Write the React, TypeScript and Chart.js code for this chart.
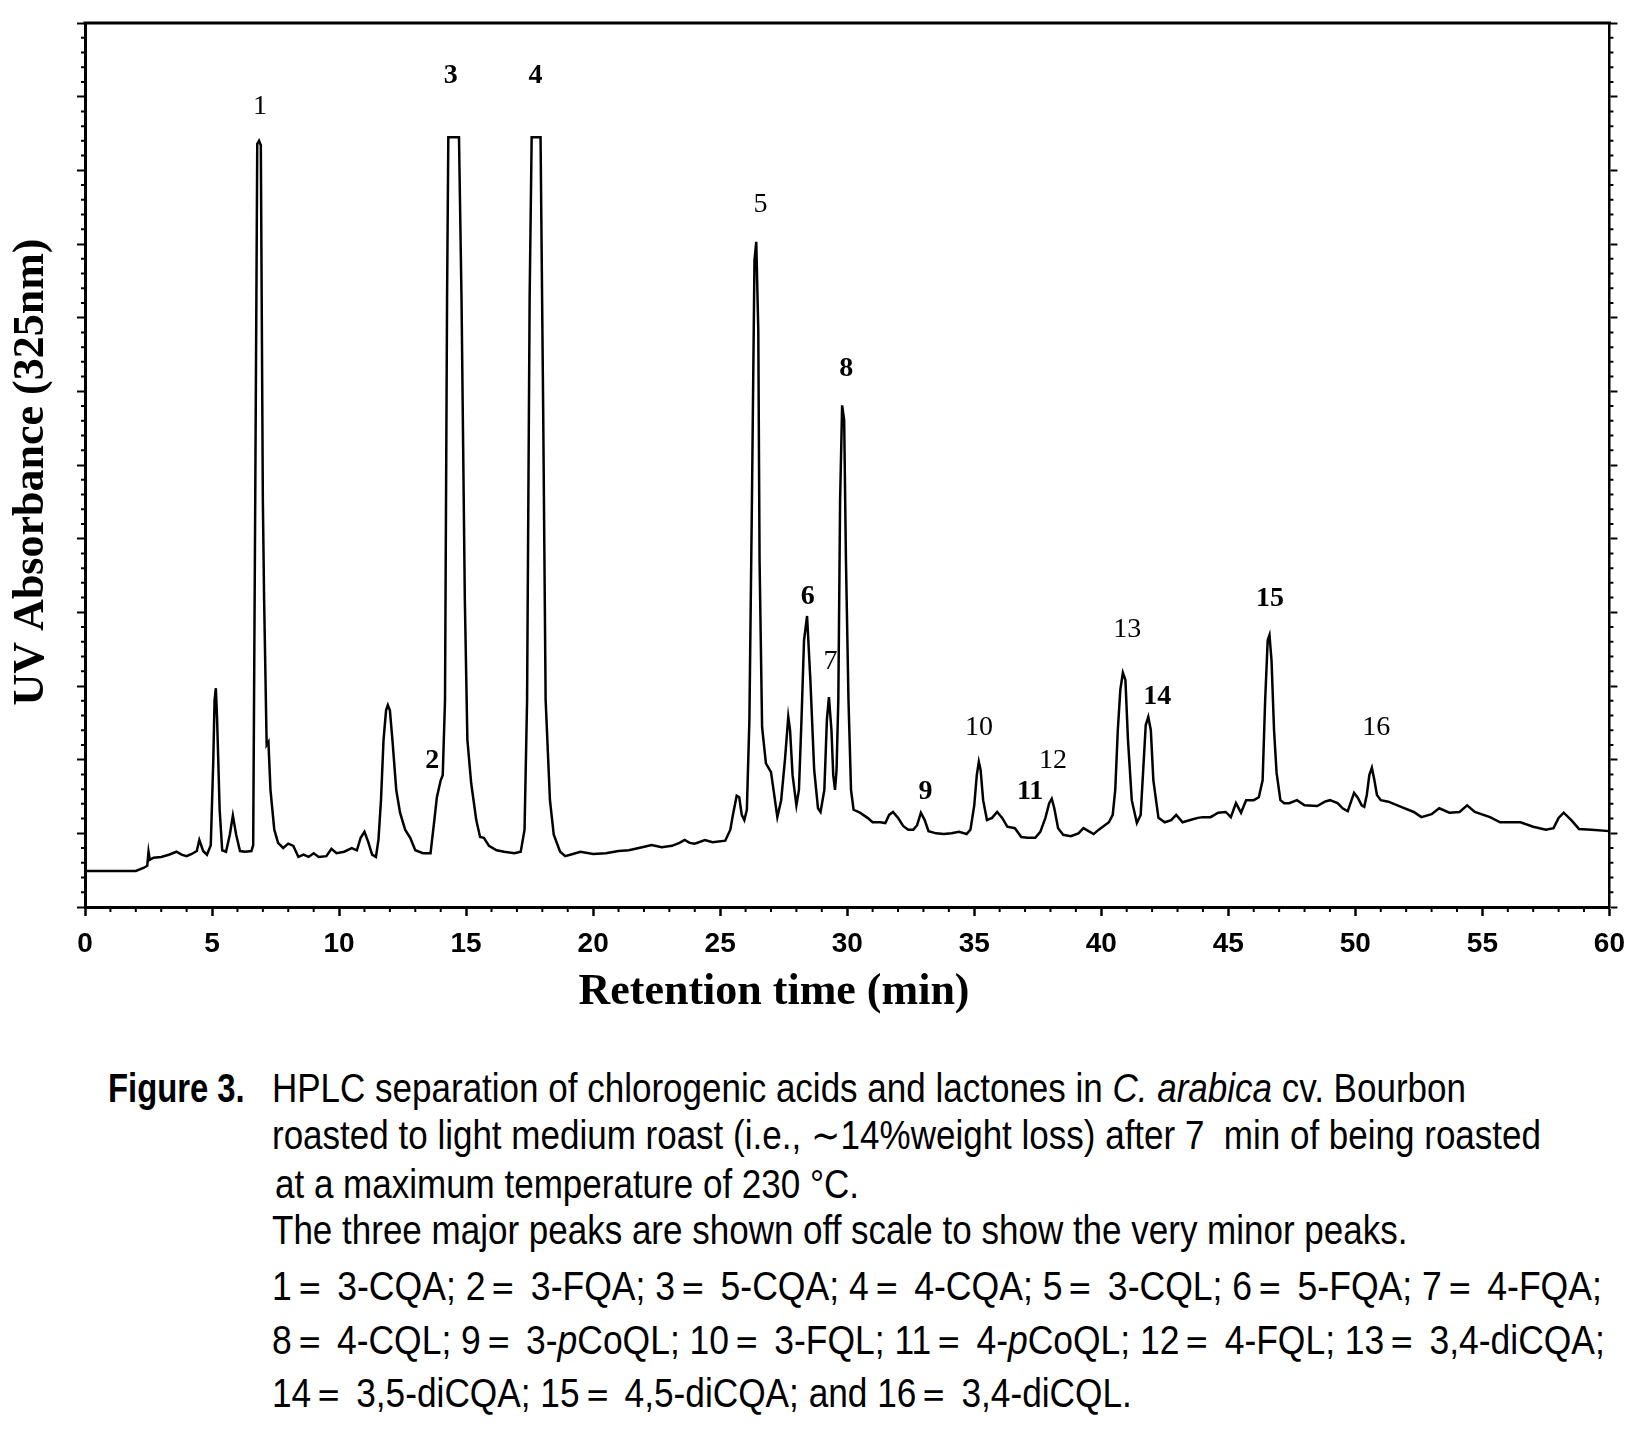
import React, { useEffect, useRef } from "react";
import { Chart, registerables } from "chart.js";

Chart.register(...registerables);

const retentionTimes: number[] = [
  0.0, 1.0, 2.0, 2.3, 2.45, 2.5, 2.55, 2.7, 3.0, 3.3, 3.6, 3.8, 4.0, 4.2, 4.4, 4.5, 4.65, 4.8, 4.95, 5.05,
  5.1, 5.15, 5.2, 5.3, 5.4, 5.55, 5.7, 5.82, 5.95, 6.1, 6.3, 6.55, 6.62, 6.7, 6.78, 6.85, 6.92, 7.0, 7.05, 7.15,
  7.22, 7.3, 7.45, 7.6, 7.8, 8.0, 8.2, 8.4, 8.6, 8.8, 9.0, 9.2, 9.5, 9.7, 9.9, 10.2, 10.5, 10.7, 10.85, 11.0,
  11.15, 11.3, 11.45, 11.55, 11.65, 11.75, 11.85, 11.92, 12.0, 12.1, 12.25, 12.4, 12.6, 12.8, 13.0, 13.3, 13.6, 13.75, 13.85, 14.0,
  14.08, 14.17, 14.25, 14.3, 14.72, 14.82, 14.95, 15.05, 15.2, 15.4, 15.55, 15.7, 15.9, 16.2, 16.5, 16.9, 17.15, 17.3, 17.4, 17.5,
  17.58, 17.93, 18.03, 18.13, 18.3, 18.45, 18.7, 18.9, 19.2, 19.5, 20.0, 20.5, 21.0, 21.4, 21.8, 22.3, 22.7, 23.1, 23.4, 23.6,
  23.8, 24.0, 24.4, 24.7, 25.2, 25.4, 25.5, 25.65, 25.75, 25.85, 25.95, 26.05, 26.15, 26.25, 26.35, 26.42, 26.5, 26.55, 26.65, 26.8,
  27.0, 27.1, 27.25, 27.4, 27.55, 27.68, 27.75, 27.85, 28.0, 28.1, 28.2, 28.3, 28.42, 28.55, 28.7, 28.85, 28.95, 29.1, 29.2, 29.28,
  29.38, 29.45, 29.52, 29.58, 29.65, 29.72, 29.8, 29.88, 29.95, 30.05, 30.15, 30.25, 30.5, 30.8, 31.0, 31.3, 31.5, 31.65, 31.8, 32.0,
  32.2, 32.4, 32.6, 32.75, 32.9, 33.05, 33.2, 33.5, 33.8, 34.1, 34.4, 34.7, 34.85, 35.0, 35.1, 35.18, 35.25, 35.35, 35.5, 35.7,
  35.9, 36.1, 36.3, 36.6, 36.85, 37.1, 37.4, 37.6, 37.8, 37.95, 38.05, 38.15, 38.3, 38.5, 38.8, 39.1, 39.3, 39.5, 39.7, 39.9,
  40.1, 40.3, 40.45, 40.55, 40.65, 40.75, 40.85, 40.95, 41.05, 41.2, 41.4, 41.55, 41.65, 41.75, 41.85, 41.95, 42.05, 42.25, 42.5, 42.75,
  42.95, 43.2, 43.5, 43.8, 44.0, 44.3, 44.6, 44.9, 45.1, 45.3, 45.5, 45.7, 46.0, 46.2, 46.35, 46.45, 46.55, 46.62, 46.7, 46.8,
  46.9, 47.05, 47.2, 47.4, 47.7, 48.0, 48.5, 48.8, 49.0, 49.3, 49.5, 49.7, 49.85, 49.95, 50.1, 50.25, 50.35, 50.45, 50.55, 50.65,
  50.75, 50.85, 51.0, 51.3, 51.8, 52.3, 52.6, 53.0, 53.3, 53.7, 54.1, 54.4, 54.7, 55.3, 55.7, 56.5, 57.0, 57.5, 57.8, 58.0,
  58.2, 58.5, 58.8, 59.3, 60.0,
];

// UV absorbance at 325 nm (arbitrary units, axis runs 0 to 12)
const absorbance: number[] = [
  0.49, 0.49, 0.49, 0.53, 0.56, 0.75, 0.64, 0.67, 0.68, 0.71, 0.75, 0.71, 0.69, 0.72, 0.76, 0.91, 0.76, 0.71, 0.84, 2.0,
  2.81, 2.97, 2.54, 1.32, 0.77, 0.75, 0.98, 1.24, 0.98, 0.76, 0.75, 0.76, 0.84, 5.52, 10.36, 10.4, 10.34, 5.52, 4.17, 2.2,
  2.24, 1.59, 1.05, 0.87, 0.8, 0.86, 0.83, 0.68, 0.71, 0.68, 0.73, 0.68, 0.69, 0.79, 0.73, 0.75, 0.8, 0.77, 0.94, 1.02,
  0.88, 0.71, 0.68, 0.91, 1.45, 2.27, 2.67, 2.74, 2.67, 2.27, 1.59, 1.28, 1.05, 0.94, 0.77, 0.73, 0.73, 1.18, 1.49, 1.72,
  1.79, 2.81, 8.24, 10.45, 10.45, 8.24, 4.17, 2.27, 1.68, 1.18, 0.95, 0.94, 0.83, 0.77, 0.75, 0.73, 0.75, 1.05, 2.81, 8.24,
  10.45, 10.45, 6.88, 2.81, 1.45, 0.98, 0.75, 0.69, 0.72, 0.75, 0.72, 0.73, 0.76, 0.77, 0.8, 0.84, 0.81, 0.83, 0.87, 0.91,
  0.87, 0.86, 0.91, 0.88, 0.9, 1.05, 1.25, 1.51, 1.49, 1.25, 1.18, 1.32, 2.54, 5.52, 8.78, 9.03, 7.83, 4.71, 2.44, 1.95,
  1.83, 1.59, 1.22, 1.45, 2.0, 2.58, 2.4, 1.79, 1.38, 1.59, 2.54, 3.62, 3.95, 3.08, 1.86, 1.34, 1.29, 1.59, 2.54, 2.85,
  2.4, 1.79, 1.59, 1.86, 2.81, 5.52, 6.81, 6.61, 4.71, 2.81, 1.59, 1.32, 1.28, 1.21, 1.15, 1.15, 1.14, 1.25, 1.29, 1.21,
  1.1, 1.05, 1.05, 1.11, 1.28, 1.18, 1.03, 1.0, 0.99, 1.0, 1.02, 0.99, 1.05, 1.38, 1.79, 1.97, 1.86, 1.45, 1.18, 1.21,
  1.29, 1.21, 1.09, 1.07, 0.95, 0.94, 0.94, 1.02, 1.21, 1.41, 1.47, 1.34, 1.07, 0.98, 0.96, 1.0, 1.07, 1.03, 0.99, 1.05,
  1.1, 1.15, 1.25, 1.59, 2.4, 2.95, 3.18, 3.08, 2.27, 1.45, 1.14, 1.25, 1.86, 2.47, 2.58, 2.4, 1.72, 1.21, 1.15, 1.18,
  1.25, 1.15, 1.18, 1.21, 1.22, 1.22, 1.28, 1.29, 1.22, 1.41, 1.28, 1.45, 1.45, 1.49, 1.72, 2.81, 3.62, 3.69, 3.35, 2.4,
  1.82, 1.45, 1.41, 1.41, 1.45, 1.38, 1.37, 1.43, 1.45, 1.41, 1.34, 1.3, 1.45, 1.55, 1.48, 1.38, 1.36, 1.52, 1.79, 1.89,
  1.72, 1.52, 1.45, 1.43, 1.36, 1.29, 1.22, 1.26, 1.34, 1.28, 1.29, 1.38, 1.29, 1.22, 1.15, 1.15, 1.09, 1.05, 1.07, 1.21,
  1.28, 1.18, 1.06, 1.05, 1.03,
];

const xTickLabels = ["0", "5", "10", "15", "20", "25", "30", "35", "40", "45", "50", "55", "60"];

// Peak numbers and where they are written (retention time, absorbance level)
const peakNumbers = ["1", "2", "3", "4", "5", "6", "7", "8", "9", "10", "11", "12", "13", "14", "15", "16"];
const peakLabelTimes = [6.89, 13.67, 14.4, 17.73, 26.59, 28.45, 29.34, 29.96, 33.08, 35.19, 37.2, 38.1, 41.02, 42.2, 46.64, 50.82];
const peakLabelLevels = [10.86, 1.99, 11.29, 11.29, 9.53, 4.21, 3.33, 7.3, 1.57, 2.44, 1.57, 1.99, 3.76, 2.86, 4.19, 2.43];

// styling of the peak numbers (kept apart from the data)
const peakLabelBold = [false, true, true, true, false, true, false, true, true, false, true, false, false, true, true, false];

const xAxisTitle = "Retention time (min)";
const yAxisTitle = "UV Absorbance (325nm)";

const CANVAS_W = 1628;
const CANVAS_H = 1030;
const CAPTION_SCALE = 0.875;

export default function App() {
  const ref = useRef<HTMLCanvasElement | null>(null);

  useEffect(() => {
    const canvas = ref.current;
    if (!canvas) return;
    const points = retentionTimes.map((t, i) => ({ x: t, y: absorbance[i] }));

    const decor = {
      id: "decor",
      afterDraw(chart: any) {
        const { ctx, chartArea: a, scales } = chart;
        const xs = scales.x;
        const ys = scales.y;
        ctx.save();
        ctx.strokeStyle = "#000";
        ctx.fillStyle = "#000";
        // top frame line
        ctx.lineWidth = 3;
        ctx.beginPath();
        ctx.moveTo(a.left - 1.5, a.top);
        ctx.lineTo(a.right + 1.5, a.top);
        ctx.stroke();
        // minor ticks
        ctx.lineWidth = 2;
        ctx.beginPath();
        for (let m = 0; m <= 60; m++) {
          if (m % 5 === 0) continue;
          const px = xs.getPixelForValue(m);
          ctx.moveTo(px, a.bottom);
          ctx.lineTo(px, a.bottom + 5);
        }
        for (let k = 0; k <= 60; k++) {
          if (k % 5 === 0) continue;
          const py = ys.getPixelForValue(k / 5);
          ctx.moveTo(a.left, py);
          ctx.lineTo(a.left - 4, py);
          ctx.moveTo(a.right, py);
          ctx.lineTo(a.right + 4, py);
        }
        ctx.stroke();
        // peak numbers
        ctx.textAlign = "center";
        ctx.textBaseline = "middle";
        peakNumbers.forEach((label, i) => {
          ctx.font = `${peakLabelBold[i] ? "bold " : ""}28px "Liberation Serif", "Times New Roman", serif`;
          ctx.fillText(label, xs.getPixelForValue(peakLabelTimes[i]), ys.getPixelForValue(peakLabelLevels[i]));
        });
        // axis titles
        ctx.font = 'bold 44px "Liberation Serif", "Times New Roman", serif';
        ctx.fillText(xAxisTitle, a.left + 689, a.bottom + 86);
        ctx.translate(a.left - 53, a.top + 449);
        ctx.rotate(-Math.PI / 2);
        ctx.fillText(yAxisTitle, 0, 0);
        ctx.restore();
      },
    };

    const yGrid = {
      display: true,
      drawOnChartArea: false,
      drawTicks: true,
      tickLength: 8,
      tickWidth: 2,
      tickColor: "#000",
    };

    const chart = new Chart(canvas, {
      type: "line",
      data: {
        datasets: [
          {
            data: points,
            borderColor: "#000",
            borderWidth: 2.5,
            pointRadius: 0,
            tension: 0,
            fill: false,
          },
        ],
      },
      options: {
        responsive: false,
        maintainAspectRatio: false,
        animation: false,
        layout: { padding: { top: 15, left: 0, right: 0, bottom: 0 } },
        plugins: { legend: { display: false }, tooltip: { enabled: false } },
        scales: {
          x: {
            type: "linear",
            position: "bottom",
            min: 0,
            max: 60,
            ticks: {
              stepSize: 5,
              padding: 11,
              color: "#000",
              maxRotation: 0,
              autoSkip: false,
              font: { family: '"Liberation Sans", Arial, sans-serif', weight: "bold", size: 28 },
              callback: (_v: any, i: number) => xTickLabels[i],
            },
            grid: { display: true, drawOnChartArea: false, drawTicks: true, tickLength: 9, tickWidth: 2.5, tickColor: "#000" },
            border: { display: true, color: "#000", width: 3 },
            afterFit: (s: any) => {
              s.height = CANVAS_H - 899;
            },
          },
          y: {
            type: "linear",
            position: "left",
            min: 0,
            max: 12,
            ticks: { display: false, stepSize: 1 },
            grid: yGrid,
            border: { display: true, color: "#000", width: 3 },
            afterFit: (s: any) => {
              s.width = 77;
            },
          },
          y2: {
            type: "linear",
            position: "right",
            min: 0,
            max: 12,
            ticks: { display: false, stepSize: 1 },
            grid: yGrid,
            border: { display: true, color: "#000", width: 2.5 },
            afterFit: (s: any) => {
              s.width = CANVAS_W - 1602;
            },
          },
        },
      } as any,
      plugins: [decor],
    });
    return () => chart.destroy();
  }, []);

  const lineStyle = (top: number, left = 264, scale = CAPTION_SCALE): React.CSSProperties => ({
    position: "absolute",
    top,
    left,
    height: 48,
    lineHeight: "48px",
    whiteSpace: "nowrap",
    transform: `scaleX(${scale})`,
    transformOrigin: "left center",
  });

  return (
    <div style={{ width: CANVAS_W, background: "#fff", overflow: "hidden" }}>
      <canvas ref={ref} width={CANVAS_W} height={CANVAS_H} style={{ display: "block", width: CANVAS_W, height: CANVAS_H }} />
      <div
        style={{
          position: "relative",
          height: 383,
          fontFamily: '"Liberation Sans", Arial, sans-serif',
          fontSize: 40,
          color: "#000",
        }}
      >
        <div style={{ ...lineStyle(26, 100, 0.82), fontWeight: "bold" }}>Figure 3.</div>
        <div style={lineStyle(26)}>
          HPLC separation of chlorogenic acids and lactones in <i>C. arabica</i> cv. Bourbon
        </div>
        <div style={lineStyle(73)}>roasted to light medium roast (i.e., ∼14%weight loss) after 7&nbsp; min of being roasted</div>
        <div style={lineStyle(122, 267)}>at a maximum temperature of 230 °C.</div>
        <div style={lineStyle(168)}>The three major peaks are shown off scale to show the very minor peaks.</div>
        <div style={lineStyle(224, 264, 0.889)}>1＝ 3-CQA; 2＝ 3-FQA; 3＝ 5-CQA; 4＝ 4-CQA; 5＝ 3-CQL; 6＝ 5-FQA; 7＝ 4-FQA;</div>
        <div style={lineStyle(278, 264, 0.886)}>
          8＝ 4-CQL; 9＝ 3-<i>p</i>CoQL; 10＝ 3-FQL; 11＝ 4-<i>p</i>CoQL; 12＝ 4-FQL; 13＝ 3,4-diCQA;
        </div>
        <div style={lineStyle(331, 264, 0.881)}>14＝ 3,5-diCQA; 15＝ 4,5-diCQA; and 16＝ 3,4-diCQL.</div>
      </div>
    </div>
  );
}
